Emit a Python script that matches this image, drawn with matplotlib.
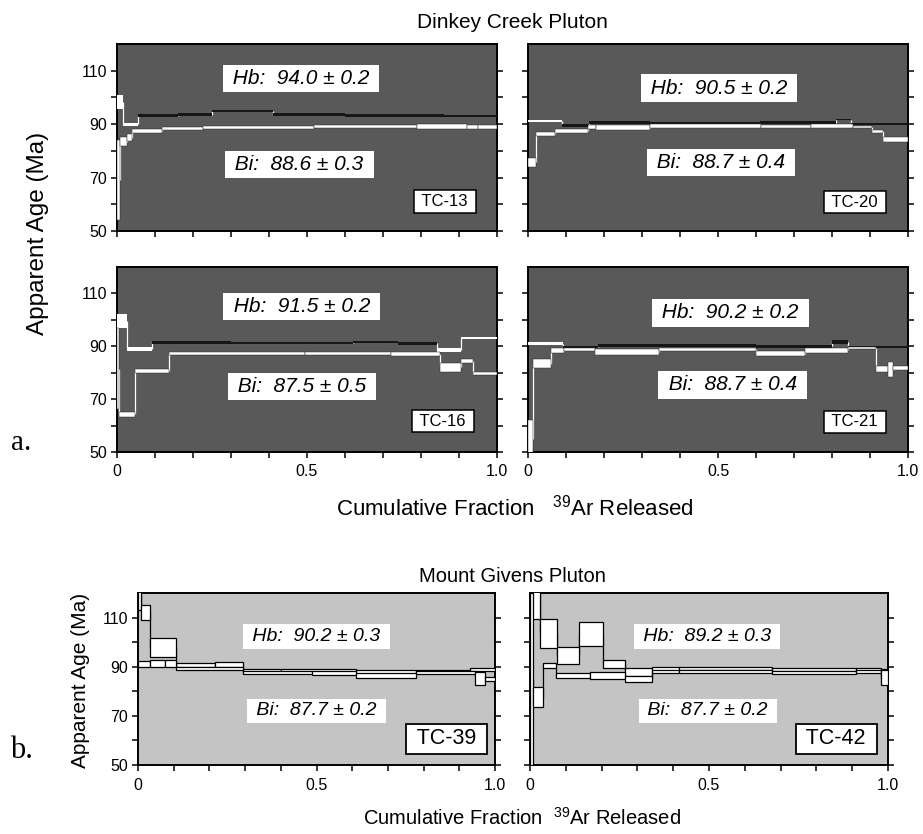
import matplotlib
matplotlib.use('Agg')
import matplotlib.pyplot as plt
from matplotlib.patches import Rectangle
from matplotlib.transforms import blended_transform_factory
import numpy as np

plt.rcParams['font.family'] = ['Liberation Sans', 'DejaVu Sans']
plt.rcParams['mathtext.fontset'] = 'custom'
plt.rcParams['mathtext.rm'] = 'Liberation Sans'

# ---------------- data (cumulative fraction edges, ages in Ma, 1-sigma errors) ----------------
# Dinkey Creek Pluton
tc13_hb_edges = [0, 0.015, 0.056, 0.16, 0.25, 0.41, 0.6, 0.86, 0.91, 1.0]
tc13_hb_ages = [98.3, 90.0, 93.2, 93.6, 94.8, 93.5, 93.3, 92.9, 93.0]
tc13_hb_errs = [2.5, 0.6, 0.6, 0.6, 0.4, 0.6, 0.6, 0.4, 0.5]
tc13_hb_plateau = [2, 8]
tc13_bi_edges = [0, 0.008, 0.025, 0.04, 0.118, 0.227, 0.518, 0.79, 0.92, 0.95, 1.0]
tc13_bi_ages = [69.0, 83.4, 85.0, 87.4, 88.4, 88.8, 89.1, 89.1, 88.8, 88.9]
tc13_bi_errs = [15.0, 1.7, 1.3, 0.8, 0.6, 0.6, 0.7, 0.9, 0.7, 0.8]

tc20_hb_edges = [0, 0.09, 0.16, 0.32, 0.61, 0.81, 0.85, 1.0]
tc20_hb_ages = [91.3, 89.6, 90.6, 90.4, 90.5, 91.7, 90.1]
tc20_hb_errs = [0.35, 0.6, 0.6, 0.5, 0.5, 0.3, 0.4]
tc20_hb_plateau = [1, 6]
tc20_bi_edges = [0, 0.022, 0.07, 0.158, 0.18, 0.32, 0.614, 0.745, 0.855, 0.906, 0.935, 1.0]
tc20_bi_ages = [75.7, 86.2, 87.4, 88.9, 88.7, 89.2, 89.1, 89.2, 89.0, 87.3, 84.4]
tc20_bi_errs = [1.6, 0.8, 0.8, 0.6, 0.8, 0.7, 0.6, 0.7, 0.4, 0.6, 0.9]

tc16_hb_edges = [0, 0.025, 0.091, 0.3, 0.62, 0.74, 0.843, 0.904, 1.0]
tc16_hb_ages = [99.5, 88.9, 91.5, 91.3, 91.6, 91.2, 88.6, 93.1]
tc16_hb_errs = [2.6, 0.8, 0.6, 0.5, 0.4, 0.6, 0.6, 0.4]
tc16_hb_plateau = [2, 5]
tc16_bi_edges = [0, 0.006, 0.047, 0.138, 0.495, 0.72, 0.85, 0.904, 0.937, 1.0]
tc16_bi_ages = [81.5, 64.2, 80.7, 87.3, 87.4, 87.1, 82.0, 84.3, 79.7]
tc16_bi_errs = [15.4, 0.9, 0.8, 0.6, 0.6, 0.6, 1.8, 0.8, 0.6]

tc21_hb_edges = [0, 0.092, 0.183, 0.345, 0.6, 0.8, 0.843, 1.0]
tc21_hb_ages = [91.0, 89.6, 90.2, 90.3, 90.0, 91.6, 89.7]
tc21_hb_errs = [0.5, 0.4, 0.5, 0.4, 0.5, 0.6, 0.4]
tc21_hb_plateau = [1, 6]
tc21_bi_edges = [0, 0.012, 0.061, 0.096, 0.175, 0.345, 0.6, 0.73, 0.843, 0.917, 0.948, 0.961, 1.0]
tc21_bi_ages = [55.0, 83.4, 88.4, 88.7, 87.8, 88.9, 87.2, 88.5, 89.2, 81.5, 81.2, 81.7]
tc21_bi_errs = [7.0, 1.6, 0.9, 0.5, 1.0, 0.6, 0.9, 1.0, 0.4, 1.2, 2.8, 0.8]

# Mount Givens Pluton
tc39_hb_edges = [0, 0.009, 0.033, 0.107, 0.215, 0.294, 0.40, 0.61, 0.78, 0.93, 1.0]
tc39_hb_ages = [119.0, 112.1, 97.8, 90.8, 90.9, 88.3, 88.5, 88.0, 88.2, 88.8]
tc39_hb_errs = [6.0, 3.2, 3.7, 0.8, 1.1, 0.7, 0.6, 0.8, 0.6, 0.5]
tc39_bi_edges = [0, 0.033, 0.077, 0.107, 0.294, 0.486, 0.612, 0.78, 0.944, 0.972, 1.0]
tc39_bi_ages = [91.0, 91.2, 91.2, 89.3, 87.8, 87.6, 86.6, 87.5, 85.3, 85.0]
tc39_bi_errs = [1.2, 1.5, 1.5, 0.7, 0.6, 0.8, 1.0, 0.6, 2.7, 1.0]

tc42_hb_edges = [0, 0.028, 0.075, 0.137, 0.205, 0.264, 0.34, 0.415, 0.676, 0.91, 0.98, 1.0]
tc42_hb_ages = [120.0, 103.7, 94.7, 103.4, 91.0, 87.9, 89.0, 89.2, 89.0, 88.8, 88.0]
tc42_hb_errs = [10.4, 5.9, 3.4, 4.9, 1.7, 1.5, 0.8, 0.6, 0.6, 0.8, 1.2]
tc42_bi_edges = [0, 0.009, 0.035, 0.072, 0.168, 0.264, 0.34, 0.415, 0.676, 0.91, 0.98, 1.0]
tc42_bi_ages = [85.0, 77.7, 90.5, 86.3, 86.5, 85.1, 88.0, 88.1, 87.7, 88.0, 85.5]
tc42_bi_errs = [35.0, 3.9, 1.2, 1.0, 1.5, 1.2, 0.7, 0.6, 0.6, 0.6, 3.0]

sample_names = ['TC-13', 'TC-20', 'TC-16', 'TC-21', 'TC-39', 'TC-42']
hb_labels = ['94.0', '90.5', '91.5', '90.2', '90.2', '89.2']
hb_label_errs = ['0.2', '0.2', '0.2', '0.2', '0.3', '0.3']
bi_labels = ['88.6', '88.7', '87.5', '88.7', '87.7', '87.7']
bi_label_errs = ['0.3', '0.4', '0.5', '0.4', '0.2', '0.2']

x_tick_values = [0, 0.1, 0.2, 0.3, 0.4, 0.5, 0.6, 0.7, 0.8, 0.9, 1.0]
x_tick_labels = ['0', '', '', '', '', '0.5', '', '', '', '', '1.0']
y_tick_values = [50, 60, 70, 80, 90, 100, 110]
y_tick_labels = ['50', '', '70', '', '90', '', '110']

# ---------------- figure ----------------
W, H = 923, 834
fig = plt.figure(figsize=(W / 100, H / 100), dpi=100)


def ax_at(l, t, r, b):
    return fig.add_axes([l / W, 1 - b / H, (r - l) / W, (b - t) / H])


def draw_spectrum(ax, edges, ages, errs, faces, ec, elw, conn_color, z):
    for i in range(len(ages)):
        if i > 0:
            ax.plot([edges[i], edges[i]], [ages[i - 1], ages[i]], color=conn_color,
                    lw=0.9, zorder=z - 0.5, solid_capstyle='butt')
        ax.add_patch(Rectangle((edges[i], ages[i] - errs[i]), edges[i + 1] - edges[i],
                               2 * errs[i], facecolor=faces[i], edgecolor=ec,
                               lw=elw, zorder=z))


def style_axis(ax, bg, show_ylabels, show_xlabels, lsize):
    ax.set_facecolor(bg)
    ax.set_xlim(0, 1)
    ax.set_ylim(50, 120)
    ax.set_xticks(x_tick_values)
    ax.set_yticks(y_tick_values)
    ax.set_xticklabels(x_tick_labels if show_xlabels else [''] * len(x_tick_values))
    ax.set_yticklabels(y_tick_labels if show_ylabels else [''] * len(y_tick_values))
    ax.tick_params(direction='out', length=4, width=1.1, right=True, labelsize=lsize,
                   pad=3)
    ax.tick_params(axis='x', pad=5)
    for s in ax.spines.values():
        s.set_linewidth(1.4)


def annotate(ax, k, pos, tsize, nsize, nlw):
    tr = blended_transform_factory(ax.transAxes, ax.transData)
    (hx, hy), (bx, by), (sx, sy) = pos
    ax.text(hx, hy, ' Hb:  %s ± %s ' % (hb_labels[k], hb_label_errs[k]), transform=tr,
            ha='center', va='center', fontsize=tsize, style='italic', zorder=10,
            bbox=dict(boxstyle='square,pad=0.2', fc='white', ec='none'))
    ax.text(bx, by, ' Bi:  %s ± %s ' % (bi_labels[k], bi_label_errs[k]), transform=tr,
            ha='center', va='center', fontsize=tsize, style='italic', zorder=10,
            bbox=dict(boxstyle='square,pad=0.2', fc='white', ec='none'))
    ax.text(sx, sy, ' %s ' % sample_names[k], transform=tr, ha='center', va='center',
            fontsize=nsize, zorder=10,
            bbox=dict(boxstyle='square,pad=0.22', fc='white', ec='black', lw=nlw))


dark_bg = '#595959'
light_bg = '#c4c4c4'

top_panels = [
    (ax_at(117, 44, 497, 231), tc13_hb_edges, tc13_hb_ages, tc13_hb_errs, tc13_hb_plateau,
     tc13_bi_edges, tc13_bi_ages, tc13_bi_errs, 0, True, False,
     ((0.484, 107.0), (0.48, 74.8), (0.863, 61.0))),
    (ax_at(528, 44, 908, 231), tc20_hb_edges, tc20_hb_ages, tc20_hb_errs, tc20_hb_plateau,
     tc20_bi_edges, tc20_bi_ages, tc20_bi_errs, 1, False, False,
     ((0.503, 103.5), (0.508, 75.7), (0.86, 60.8))),
    (ax_at(117, 267, 497, 452), tc16_hb_edges, tc16_hb_ages, tc16_hb_errs, tc16_hb_plateau,
     tc16_bi_edges, tc16_bi_ages, tc16_bi_errs, 2, True, True,
     ((0.486, 105.1), (0.487, 74.9), (0.858, 61.7))),
    (ax_at(528, 267, 908, 452), tc21_hb_edges, tc21_hb_ages, tc21_hb_errs, tc21_hb_plateau,
     tc21_bi_edges, tc21_bi_ages, tc21_bi_errs, 3, False, True,
     ((0.533, 102.6), (0.538, 75.4), (0.86, 61.4))),
]

for (ax, he, ha, hr, hp, be, ba, br, k, yl, xl, pos) in top_panels:
    style_axis(ax, dark_bg, yl, xl, 11.5)
    hfaces = ['#161616' if hp[0] <= i <= hp[1] else 'white' for i in range(len(ha))]
    draw_spectrum(ax, he, ha, hr, hfaces, 'none', 0, 'white', 3)
    draw_spectrum(ax, be, ba, br, ['white'] * len(ba), '#2a2a2a', 0.35, 'white', 4)
    annotate(ax, k, pos, 15, 12, 1.1)

bottom_panels = [
    (ax_at(138, 593, 495, 765), tc39_hb_edges, tc39_hb_ages, tc39_hb_errs,
     tc39_bi_edges, tc39_bi_ages, tc39_bi_errs, 4, True,
     ((0.50, 102.2), (0.50, 72.0), (0.865, 60.6))),
    (ax_at(530, 593, 888, 765), tc42_hb_edges, tc42_hb_ages, tc42_hb_errs,
     tc42_bi_edges, tc42_bi_ages, tc42_bi_errs, 5, False,
     ((0.494, 102.2), (0.497, 72.0), (0.855, 60.6))),
]

for (ax, he, ha, hr, be, ba, br, k, yl, pos) in bottom_panels:
    style_axis(ax, light_bg, yl, True, 11.5)
    draw_spectrum(ax, he, ha, hr, ['white'] * len(ha), 'black', 0.9, 'black', 3)
    draw_spectrum(ax, be, ba, br, ['white'] * len(ba), 'black', 0.9, 'black', 4)
    annotate(ax, k, pos, 14, 15.5, 1.3)

# ---------------- titles and labels ----------------
fig.text(512 / W, 1 - 23 / H, 'Dinkey Creek Pluton', ha='center', va='center', fontsize=15)
fig.text(512 / W, 1 - 576 / H, 'Mount Givens Pluton', ha='center', va='center', fontsize=14.5)
fig.text(515 / W, 1 - 508 / H, r'Cumulative Fraction   $^{39}$Ar Released',
         ha='center', va='center', fontsize=16)
fig.text(522 / W, 1 - 818 / H, r'Cumulative Fraction  $^{39}$Ar Released',
         ha='center', va='center', fontsize=14.5)
fig.text(38 / W, 1 - 233 / H, 'Apparent Age (Ma)', ha='center', va='center',
         rotation=90, fontsize=17.5)
fig.text(80 / W, 1 - 680 / H, 'Apparent Age (Ma)', ha='center', va='center',
         rotation=90, fontsize=15)
fig.text(21 / W, 1 - 443 / H, 'a.', ha='center', va='center', fontsize=21,
         family=['Liberation Serif', 'DejaVu Serif'])
fig.text(21 / W, 1 - 750 / H, 'b.', ha='center', va='center', fontsize=22,
         family=['Liberation Serif', 'DejaVu Serif'])

fig.savefig('out.png', dpi=100, facecolor='white')
